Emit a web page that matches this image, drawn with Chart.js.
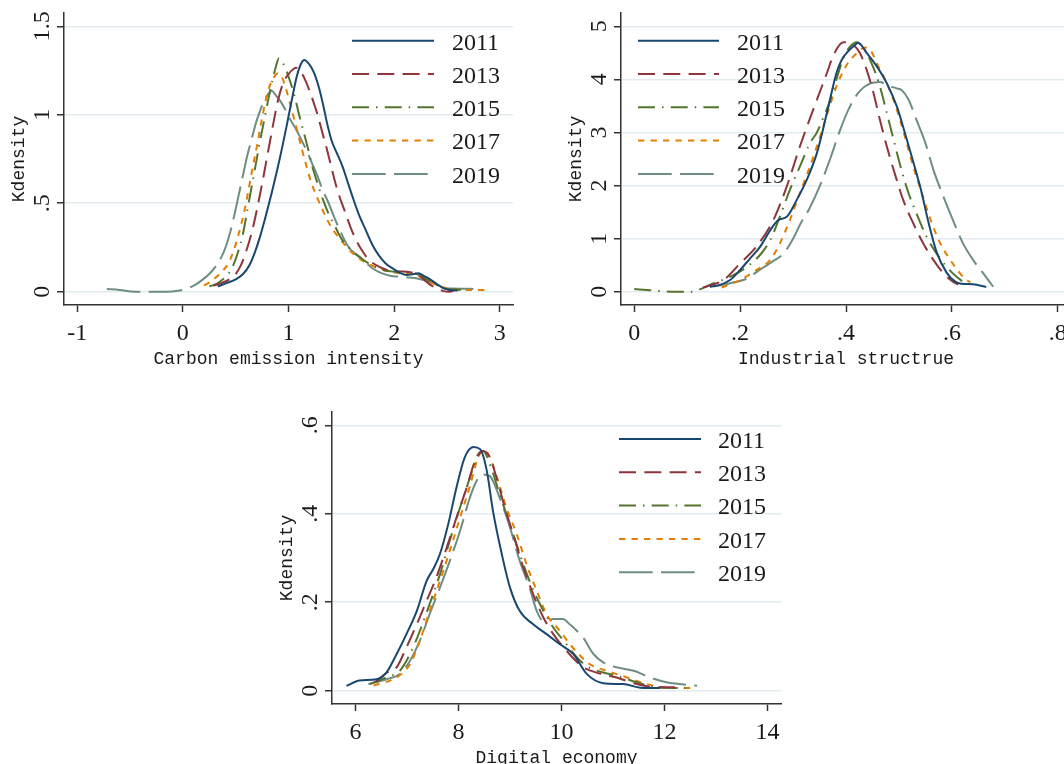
<!DOCTYPE html>
<html><head><meta charset="utf-8">
<script src="https://cdn.jsdelivr.net/npm/chart.js@4.4.1/dist/chart.umd.min.js"></script>
<style>
html,body{margin:0;padding:0;background:#fff;}
body{width:1064px;height:764px;overflow:hidden;position:relative;}
canvas{position:absolute;}
</style></head>
<body>
<canvas id="c1" width="531" height="380" style="left:-1px;top:0px"></canvas>
<canvas id="c2" width="532" height="380" style="left:556px;top:0px"></canvas>
<canvas id="c3" width="531" height="380" style="left:267px;top:399px"></canvas>
<script>
// ---------- categories ----------
const years = ['2011','2013','2015','2017','2019'];

// ---------- Carbon emission intensity (x, density) ----------
const carbon2011 = [[0.33,0.03],[0.42,0.05],[0.50,0.07],[0.57,0.10],[0.63,0.15],[0.68,0.22],[0.73,0.31],[0.79,0.44],[0.85,0.58],[0.92,0.76],[0.98,0.93],[1.03,1.08],[1.08,1.22],[1.12,1.29],[1.15,1.31],[1.19,1.29],[1.24,1.24],[1.29,1.15],[1.33,1.05],[1.37,0.94],[1.41,0.85],[1.46,0.78],[1.51,0.71],[1.56,0.62],[1.61,0.53],[1.67,0.43],[1.73,0.35],[1.79,0.27],[1.85,0.21],[1.92,0.16],[1.99,0.13],[2.06,0.105],[2.12,0.095],[2.18,0.10],[2.23,0.105],[2.28,0.09],[2.34,0.07],[2.40,0.045],[2.46,0.022],[2.52,0.01],[2.60,0.007]];
const carbon2013 = [[0.29,0.035],[0.37,0.05],[0.44,0.07],[0.50,0.10],[0.55,0.15],[0.60,0.23],[0.65,0.33],[0.70,0.46],[0.75,0.61],[0.80,0.77],[0.85,0.93],[0.90,1.08],[0.95,1.18],[1.00,1.23],[1.05,1.26],[1.08,1.265],[1.12,1.24],[1.17,1.18],[1.22,1.10],[1.27,1.01],[1.32,0.90],[1.37,0.79],[1.42,0.67],[1.47,0.56],[1.53,0.46],[1.59,0.36],[1.65,0.28],[1.71,0.22],[1.78,0.17],[1.86,0.14],[1.95,0.12],[2.05,0.115],[2.15,0.11],[2.22,0.10],[2.28,0.07],[2.34,0.04],[2.40,0.02],[2.46,0.005],[2.52,0.0],[2.56,0.005]];
const carbon2015 = [[0.25,0.03],[0.32,0.045],[0.38,0.07],[0.43,0.10],[0.47,0.14],[0.52,0.22],[0.57,0.33],[0.61,0.46],[0.65,0.59],[0.69,0.72],[0.73,0.85],[0.77,0.97],[0.81,1.09],[0.85,1.20],[0.88,1.27],[0.91,1.32],[0.94,1.30],[0.98,1.25],[1.02,1.18],[1.06,1.10],[1.10,1.00],[1.14,0.91],[1.18,0.82],[1.22,0.72],[1.27,0.62],[1.32,0.53],[1.38,0.44],[1.44,0.37],[1.50,0.30],[1.57,0.25],[1.64,0.21],[1.72,0.175],[1.80,0.145],[1.88,0.125],[1.97,0.115],[2.06,0.11],[2.15,0.11],[2.22,0.10],[2.28,0.08],[2.35,0.055],[2.43,0.03],[2.50,0.016],[2.58,0.012],[2.70,0.01]];
const carbon2017 = [[0.20,0.035],[0.27,0.06],[0.33,0.09],[0.38,0.12],[0.43,0.16],[0.48,0.23],[0.53,0.33],[0.58,0.45],[0.62,0.57],[0.66,0.70],[0.70,0.82],[0.74,0.95],[0.78,1.07],[0.82,1.16],[0.86,1.21],[0.90,1.235],[0.94,1.21],[0.98,1.14],[1.02,1.05],[1.07,0.94],[1.12,0.82],[1.17,0.71],[1.22,0.61],[1.28,0.52],[1.34,0.44],[1.40,0.37],[1.47,0.31],[1.54,0.26],[1.62,0.21],[1.70,0.175],[1.78,0.15],[1.87,0.13],[1.96,0.115],[2.05,0.105],[2.14,0.10],[2.22,0.09],[2.30,0.07],[2.38,0.045],[2.46,0.025],[2.55,0.014],[2.65,0.01],[2.75,0.01],[2.86,0.01]];
const carbon2019 = [[-0.72,0.015],[-0.6,0.01],[-0.45,0.0],[-0.3,0.0],[-0.15,0.0],[-0.05,0.005],[0.05,0.02],[0.12,0.04],[0.19,0.07],[0.25,0.10],[0.30,0.135],[0.36,0.19],[0.41,0.26],[0.45,0.34],[0.49,0.44],[0.53,0.55],[0.57,0.66],[0.61,0.77],[0.65,0.86],[0.69,0.95],[0.73,1.02],[0.77,1.08],[0.81,1.12],[0.84,1.135],[0.88,1.11],[0.92,1.08],[0.97,1.03],[1.02,0.97],[1.07,0.92],[1.12,0.86],[1.17,0.80],[1.22,0.73],[1.27,0.66],[1.32,0.58],[1.38,0.50],[1.44,0.41],[1.50,0.33],[1.56,0.26],[1.62,0.22],[1.68,0.195],[1.74,0.16],[1.80,0.13],[1.88,0.105],[1.96,0.09],[2.05,0.085],[2.15,0.08],[2.25,0.07],[2.33,0.055],[2.40,0.04],[2.47,0.023],[2.55,0.018],[2.65,0.017],[2.75,0.016]];

// ---------- Industrial structure ----------
const ind2011 = [[0.143,0.09],[0.162,0.13],[0.181,0.22],[0.20,0.41],[0.219,0.63],[0.238,0.85],[0.257,1.16],[0.272,1.35],[0.288,1.41],[0.307,1.73],[0.326,2.11],[0.345,2.61],[0.364,3.37],[0.382,4.12],[0.392,4.37],[0.404,4.53],[0.417,4.65],[0.423,4.69],[0.439,4.5],[0.458,4.25],[0.477,3.93],[0.496,3.49],[0.511,3.0],[0.524,2.55],[0.54,1.98],[0.556,1.3],[0.571,0.75],[0.59,0.36],[0.605,0.2],[0.618,0.15],[0.64,0.14],[0.665,0.09]];
const ind2013 = [[0.13,0.08],[0.15,0.14],[0.169,0.22],[0.2,0.535],[0.231,0.855],[0.263,1.355],[0.288,1.98],[0.313,2.74],[0.338,3.43],[0.364,4.12],[0.376,4.45],[0.395,4.70],[0.411,4.67],[0.426,4.5],[0.439,4.18],[0.452,3.74],[0.464,3.24],[0.477,2.74],[0.492,2.23],[0.508,1.73],[0.527,1.29],[0.546,0.91],[0.565,0.6],[0.584,0.35],[0.602,0.19],[0.612,0.14]];
const ind2015 = [[0.0,0.05],[0.03,0.03],[0.07,0.0],[0.11,0.0],[0.125,0.05],[0.15,0.16],[0.181,0.28],[0.213,0.47],[0.24,0.72],[0.257,0.975],[0.275,1.41],[0.294,1.92],[0.313,2.36],[0.332,2.8],[0.345,3.0],[0.358,3.3],[0.37,3.6],[0.382,4.0],[0.395,4.4],[0.408,4.62],[0.42,4.70],[0.433,4.59],[0.448,4.31],[0.464,3.87],[0.477,3.37],[0.49,2.86],[0.503,2.36],[0.518,1.86],[0.533,1.48],[0.552,1.04],[0.571,0.72],[0.59,0.47],[0.609,0.28],[0.621,0.19],[0.63,0.15]];
const ind2017 = [[0.165,0.08],[0.2,0.22],[0.231,0.41],[0.257,0.6],[0.275,0.91],[0.294,1.35],[0.313,1.86],[0.332,2.36],[0.351,2.92],[0.367,3.43],[0.382,3.87],[0.4,4.25],[0.421,4.5],[0.436,4.6],[0.446,4.55],[0.461,4.25],[0.477,3.93],[0.496,3.43],[0.511,2.93],[0.527,2.36],[0.543,1.86],[0.56,1.35],[0.578,0.91],[0.597,0.6],[0.615,0.35],[0.628,0.22],[0.635,0.18]];
const ind2019 = [[0.15,0.1],[0.181,0.16],[0.213,0.25],[0.238,0.42],[0.263,0.58],[0.282,0.72],[0.3,1.0],[0.315,1.3],[0.33,1.55],[0.35,1.98],[0.37,2.5],[0.389,3.05],[0.408,3.5],[0.426,3.78],[0.445,3.92],[0.464,3.95],[0.48,3.88],[0.496,3.83],[0.505,3.8],[0.518,3.62],[0.533,3.24],[0.55,2.8],[0.565,2.3],[0.584,1.79],[0.602,1.35],[0.621,0.91],[0.64,0.6],[0.659,0.35],[0.678,0.094]];

// ---------- Digital economy ----------
const dig2011 = [[5.825,0.011],[6.08,0.023],[6.41,0.026],[6.6,0.041],[6.8,0.083],[6.99,0.128],[7.19,0.18],[7.38,0.248],[7.51,0.275],[7.64,0.309],[7.8,0.376],[7.96,0.459],[8.12,0.527],[8.29,0.551],[8.42,0.546],[8.55,0.497],[8.67,0.406],[8.84,0.309],[9.0,0.233],[9.19,0.18],[9.45,0.15],[9.71,0.128],[9.97,0.105],[10.23,0.083],[10.49,0.038],[10.81,0.017],[11.2,0.015],[11.53,0.007],[11.91,0.006]];
const dig2013 = [[6.38,0.019],[6.6,0.04],[6.8,0.053],[6.99,0.098],[7.19,0.15],[7.38,0.203],[7.57,0.256],[7.77,0.323],[7.96,0.391],[8.16,0.459],[8.32,0.519],[8.48,0.542],[8.61,0.527],[8.74,0.481],[8.9,0.414],[9.06,0.354],[9.26,0.278],[9.45,0.218],[9.65,0.165],[9.84,0.128],[10.1,0.09],[10.3,0.065],[10.42,0.053],[10.68,0.041],[11.07,0.03],[11.46,0.015],[11.85,0.008],[12.2,0.008]];
const dig2015 = [[6.28,0.015],[6.6,0.03],[6.86,0.045],[7.06,0.083],[7.25,0.135],[7.44,0.196],[7.64,0.263],[7.83,0.339],[8.03,0.414],[8.22,0.481],[8.38,0.534],[8.48,0.542],[8.61,0.512],[8.8,0.444],[9.0,0.376],[9.19,0.309],[9.38,0.248],[9.58,0.196],[9.84,0.143],[10.1,0.105],[10.3,0.075],[10.5,0.055],[10.75,0.043],[11.07,0.034],[11.46,0.019],[11.85,0.008],[12.44,0.006]];
const dig2017 = [[6.35,0.012],[6.6,0.02],[6.8,0.03],[7.06,0.06],[7.25,0.113],[7.44,0.18],[7.64,0.248],[7.83,0.316],[8.03,0.391],[8.22,0.462],[8.38,0.527],[8.5,0.544],[8.6,0.53],[8.77,0.474],[8.93,0.414],[9.13,0.354],[9.32,0.286],[9.52,0.226],[9.71,0.173],[9.97,0.135],[10.2,0.1],[10.55,0.06],[10.88,0.045],[11.27,0.03],[11.66,0.015],[12.11,0.006],[12.5,0.006]];
const dig2019 = [[6.25,0.015],[6.6,0.026],[6.86,0.038],[7.06,0.068],[7.25,0.113],[7.44,0.173],[7.64,0.233],[7.83,0.293],[8.03,0.361],[8.22,0.436],[8.35,0.474],[8.48,0.489],[8.61,0.485],[8.8,0.436],[9.0,0.369],[9.19,0.293],[9.38,0.233],[9.52,0.18],[9.65,0.158],[9.84,0.162],[10.03,0.162],[10.16,0.15],[10.3,0.135],[10.42,0.12],[10.62,0.083],[10.81,0.064],[11.07,0.053],[11.4,0.045],[11.72,0.03],[12.04,0.019],[12.37,0.014],[12.63,0.011]];

// ---------- tick values / labels ----------
const carbonXTicks = [-1, 0, 1, 2, 3];
const carbonXLabels = ['-1', '0', '1', '2', '3'];
const carbonYTicks = [0, 0.5, 1, 1.5];
const carbonYLabels = ['0', '.5', '1', '1.5'];
const indXTicks = [0, 0.2, 0.4, 0.6, 0.8];
const indXLabels = ['0', '.2', '.4', '.6', '.8'];
const indYTicks = [0, 1, 2, 3, 4, 5];
const indYLabels = ['0', '1', '2', '3', '4', '5'];
const digXTicks = [6, 8, 10, 12, 14];
const digXLabels = ['6', '8', '10', '12', '14'];
const digYTicks = [0, 0.2, 0.4, 0.6];
const digYLabels = ['0', '.2', '.4', '.6'];

// ---------- styles ----------
const seriesColors = ['#1a476f', '#90353b', '#55752f', '#e37e00', '#6e8e84'];
const seriesDash = [[], [17, 8.3], [17, 7, 1.5, 7.2], [6.3, 6.2], [33.7, 8.3]];
const LINE_W = 2;
const TEXT = '#1a1a1a';
const AXIS = '#333333';
const GRID = '#e2ecf0';
const SERIF = '"Liberation Serif", "Times New Roman", serif';
const MONO = '"Liberation Mono", "DejaVu Sans Mono", monospace';

const kLegend = {
  id: 'kLegend',
  afterDraw(chart, args, opts) {
    const ctx = chart.ctx;
    ctx.save();
    chart.data.datasets.forEach((ds, i) => {
      const y = opts.y0 + i * opts.dy;
      ctx.beginPath();
      ctx.setLineDash(ds.borderDash || []);
      ctx.lineDashOffset = 0;
      ctx.strokeStyle = ds.borderColor;
      ctx.lineWidth = LINE_W;
      ctx.lineCap = 'butt';
      ctx.moveTo(opts.x1, y);
      ctx.lineTo(opts.x2, y);
      ctx.stroke();
      ctx.setLineDash([]);
      ctx.fillStyle = TEXT;
      ctx.font = '24px ' + SERIF;
      ctx.textAlign = 'left';
      ctx.textBaseline = 'middle';
      ctx.fillText(ds.label, opts.tx, y + 2.6);
    });
    ctx.restore();
  }
};

const yLabelsPlugin = {
  id: 'yRotLabels',
  afterDraw(chart, args, opts) {
    const s = chart.scales.y;
    const ctx = chart.ctx;
    ctx.save();
    ctx.fillStyle = TEXT;
    ctx.font = '24px ' + SERIF;
    ctx.textAlign = 'center';
    ctx.textBaseline = 'middle';
    s.ticks.forEach((t, i) => {
      const py = s.getPixelForValue(t.value);
      ctx.save();
      ctx.translate(chart.chartArea.left - 21, py);
      ctx.rotate(-Math.PI / 2);
      ctx.fillText(opts.labels[i], 0, 0);
      ctx.restore();
    });
    ctx.restore();
  }
};

function makeChart(id, seriesList, xTitle, xMin, xMax, xTicks, xLabels, yMin, yMax, yTicks, yLabels, legendPos) {
  const datasets = seriesList.map((data, i) => ({
    label: years[i],
    data: data.map(p => ({x: p[0], y: p[1]})),
    borderColor: seriesColors[i],
    borderDash: seriesDash[i],
    borderWidth: LINE_W,
    pointRadius: 0,
    fill: false,
    cubicInterpolationMode: 'monotone',
    borderCapStyle: 'butt'
  }));
  return new Chart(document.getElementById(id), {
    type: 'line',
    data: {datasets},
    plugins: [kLegend, yLabelsPlugin],
    options: {
      responsive: false,
      animation: false,
      devicePixelRatio: 1,
      layout: {padding: {top: 13, right: 17, left: 0, bottom: 0}},
      plugins: {
        legend: {display: false},
        tooltip: {enabled: false},
        kLegend: legendPos,
        yRotLabels: {labels: yLabels}
      },
      scales: {
        x: {
          type: 'linear',
          min: xMin, max: xMax,
          afterBuildTicks: s => { s.ticks = xTicks.map(v => ({value: v})); },
          afterFit: s => { s.height = 75; },
          ticks: {
            callback: (v, i) => xLabels[i],
            color: TEXT,
            font: {family: SERIF, size: 24},
            padding: 7,
            maxRotation: 0, minRotation: 0, autoSkip: false
          },
          grid: {drawOnChartArea: false, drawTicks: true, tickLength: 7, tickColor: AXIS, tickWidth: 1.5},
          border: {display: true, color: AXIS, width: 1.5},
          title: {display: true, text: xTitle, color: TEXT, font: {family: MONO, size: 18}, padding: {top: 0, bottom: 10}}
        },
        y: {
          type: 'linear',
          min: yMin, max: yMax,
          afterBuildTicks: s => { s.ticks = yTicks.map(v => ({value: v})); },
          afterFit: s => { s.width = 65; },
          ticks: {display: false},
          grid: {drawOnChartArea: true, color: GRID, lineWidth: 1.5, drawTicks: true, tickLength: 7, tickColor: AXIS, tickWidth: 1.5},
          border: {display: true, color: AXIS, width: 1.5},
          title: {display: true, text: 'Kdensity', color: TEXT, font: {family: MONO, size: 18}, padding: {top: 9, bottom: 0}}
        }
      }
    }
  });
}

makeChart('c1', [carbon2011, carbon2013, carbon2015, carbon2017, carbon2019],
  'Carbon emission intensity', -1.125, 3.125, carbonXTicks, carbonXLabels,
  -0.075, 1.575, carbonYTicks, carbonYLabels,
  {x1: 353, x2: 435, tx: 453, y0: 40.7, dy: 33.3});

makeChart('c2', [ind2011, ind2013, ind2015, ind2017, ind2019],
  'Industrial structrue', -0.025, 0.825, indXTicks, indXLabels,
  -0.25, 5.25, indYTicks, indYLabels,
  {x1: 82, x2: 163, tx: 181, y0: 40.7, dy: 33.3});

makeChart('c3', [dig2011, dig2013, dig2015, dig2017, dig2019],
  'Digital economy', 5.545, 14.26, digXTicks, digXLabels,
  -0.03, 0.63, digYTicks, digYLabels,
  {x1: 352, x2: 434, tx: 451, y0: 40, dy: 33.3});
</script>
</body></html>
